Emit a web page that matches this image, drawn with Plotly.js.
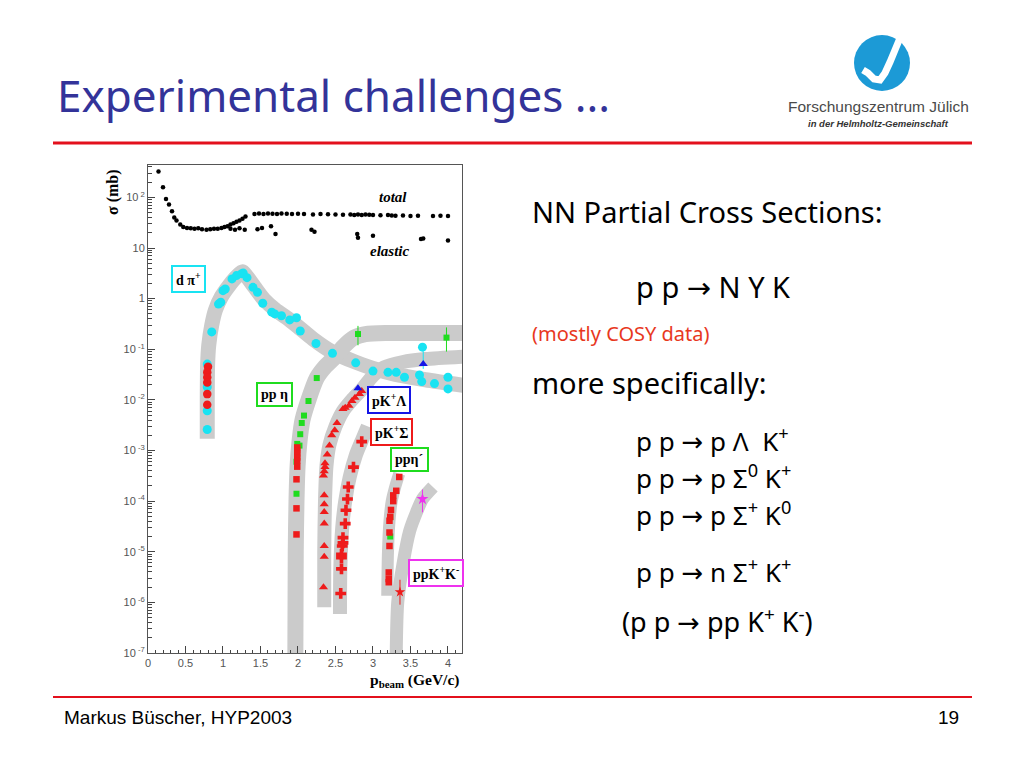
<!DOCTYPE html>
<html>
<head>
<meta charset="utf-8">
<script src="https://cdn.plot.ly/plotly-3.0.1.min.js"></script>
<style>html,body{margin:0;padding:0;background:#fff;}#chart{width:1024px;height:768px;}</style>
</head>
<body>
<div id="chart"></div>
<script>
// ---------------- data ----------------
const totalX = [0.14,0.20,0.24,0.28,0.32,0.35,0.38,0.43,0.47,0.52,0.57,0.62,0.67,0.72,0.78,0.83,0.88,0.93,0.98,1.02,1.06,1.10,1.14,1.18,1.22,1.26,1.30,1.42,1.48,1.54,1.60,1.66,1.72,1.78,1.85,1.92,2.00,2.08,2.20,2.30,2.40,2.50,2.60,2.70,2.75,2.80,2.85,2.90,2.95,3.00,3.10,3.20,3.25,3.30,3.40,3.50,3.60,3.80,3.90,4.00];
const totalY = [324,158,93,72,53,40,35,29,26,25,24.5,24,24.5,23.5,23,23.5,24,24,25,26,27,29,31,33,35,38,42,47,48,47,48,47.5,47,48,47.5,47,47.5,47,46,47,46.5,46,45.5,46,45,46,45,46,45.5,45,44.5,45,44,43.5,44,43,43.5,43,43.5,43];
const elasticX = [1.10,1.16,1.22,1.29,1.46,1.52,1.64,1.70,2.18,2.22,2.79,2.80,3.00,3.64,3.67,4.00];
const elasticY = [24,23,24.5,23,23.5,25,27,19,23,21,19,16,17.5,15,15.5,14];

const cyanX = [0.79,0.79,0.79,0.79,0.85,0.94,0.97,1.00,1.03,1.12,1.18,1.25,1.27,1.32,1.40,1.46,1.53,1.65,1.69,1.78,1.89,1.98,2.03,2.24,2.46,2.77,3.00,3.20,3.31,3.42,3.62,3.65,3.66,3.82,4.00,4.00];
const cyanY = [0.0026,0.0061,0.018,0.051,0.22,0.78,0.85,1.44,1.55,2.45,2.85,3.1,3.2,2.6,1.67,1.33,0.81,0.54,0.5,0.46,0.38,0.42,0.23,0.13,0.083,0.054,0.037,0.035,0.035,0.028,0.031,0.023,0.11,0.021,0.028,0.0165];
const redCircX = [0.80,0.79,0.79,0.79,0.79,0.79];
const redCircY = [0.045,0.035,0.028,0.022,0.013,0.008];

const greenX = [1.98,1.98,1.99,2.02,2.03,2.05,2.08,2.14,2.25,3.23,3.23];
const greenY = [0.00014,0.0006,0.00135,0.00125,0.0021,0.0035,0.0049,0.0095,0.027,4.8e-5,2e-5];
const greenErrX = [2.80,3.98];
const greenErrY = [0.2,0.17];
const greenErrUp = [0.09,0.1];
const greenErrDn = [0.08,0.08];

const redSqX = [1.99,1.99,1.99,1.99,1.99,1.99,1.98,1.98,1.98,3.35,3.31,3.27,3.27,3.24,3.23,3.22,3.22,3.22,3.21,3.21,3.21];
const redSqY = [1.15e-3,1e-3,8.7e-4,7.3e-4,6.3e-4,4.8e-4,2.7e-4,7.2e-5,2.2e-5,3e-4,1.6e-4,1.3e-4,1e-4,6.7e-5,4.9e-5,4.1e-5,2.4e-5,1.3e-5,3.9e-6,2.9e-6,2.5e-6];

const triX = [2.85,2.82,2.76,2.72,2.68,2.63,2.60,2.52,2.49,2.45,2.42,2.39,2.36,2.36,2.35,2.34,2.35,2.35,2.35,2.35,2.35,2.35,2.34];
const triY = [0.015,0.013,0.011,0.0095,0.0077,0.007,0.0066,0.0035,0.0025,0.002,0.00125,8.3e-4,5.6e-4,4.7e-4,3.9e-4,3.2e-4,1.3e-4,8.7e-5,6.1e-5,3.6e-5,1.3e-5,8e-6,2e-6];
const blueX = [2.80,3.67];
const blueY = [0.017,0.051];
const blueErrUp = [0.002,0.04];
const blueErrDn = [0.002,0.01];

const crossX = [2.85,2.74,2.67,2.66,2.64,2.63,2.60,2.60,2.59,2.58,2.58,2.58,2.57];
const crossY = [1.5e-3,4.7e-4,1.9e-4,1.1e-4,6.6e-5,3.6e-5,1.9e-5,1.5e-5,1.3e-5,8.9e-6,7.6e-6,4.6e-6,1.5e-6];

const kkX = [3.36];
const kkY = [1.6e-6];
const magX = [3.66];
const magY = [1.1e-4];

// gray trend bands (centre lines)
const bandDpiX = [0.79,0.79,0.795,0.81,0.85,0.90,0.98,1.08,1.18,1.26,1.32,1.42,1.55,1.70,1.85,2.00,2.20,2.45,2.75,3.00,3.30,3.70,4.25];
const bandDpiY = [0.0017,0.01,0.05,0.12,0.3,0.6,1.1,1.8,2.7,3.4,2.7,1.7,0.95,0.6,0.42,0.28,0.16,0.09,0.057,0.042,0.032,0.025,0.019];
const bandEtaX = [1.965,1.97,1.98,1.995,2.02,2.06,2.14,2.25,2.36,2.47,2.60,2.75,2.90,3.20,3.70,4.25];
const bandEtaY = [1e-7,1e-5,1e-4,5e-4,1.5e-3,4e-3,0.01,0.027,0.045,0.065,0.11,0.17,0.2,0.21,0.21,0.21];
const bandLamX = [2.35,2.35,2.36,2.38,2.42,2.50,2.60,2.72,2.85,3.00,3.15,3.40,3.70,4.25];
const bandLamY = [8e-7,1e-5,1e-4,5e-4,1.3e-3,3e-3,6e-3,0.01,0.016,0.03,0.044,0.056,0.064,0.072];
const bandSigX = [2.56,2.565,2.59,2.63,2.69,2.77,2.86,2.93];
const bandSigY = [5.9e-7,5e-6,3e-5,1e-4,3e-4,8e-4,1.7e-3,3e-3];
const bandEtapX = [3.19,3.20,3.22,3.25,3.30,3.35];
const bandEtapY = [1.35e-6,1e-5,4e-5,1e-4,2e-4,3.5e-4];
const bandKKX = [3.31,3.33,3.40,3.49,3.58,3.66,3.80];
const bandKKY = [1e-7,1e-6,5.7e-6,2.6e-5,6e-5,1.1e-4,1.9e-4];

const yTickVals = [1e-7,1e-6,1e-5,1e-4,1e-3,1e-2,1e-1,1,10,100];
const yTickText = ['10<sup> -7</sup>','10<sup> -6</sup>','10<sup> -5</sup>','10<sup> -4</sup>','10<sup> -3</sup>','10<sup> -2</sup>','10<sup> -1</sup>','1','10','10<sup> 2</sup>'];
const xTickVals = [0,0.5,1,1.5,2,2.5,3,3.5,4];
const xTickText = ['0','0.5','1','1.5','2','2.5','3','3.5','4'];

// ---------------- layout helpers ----------------
const L = 148, R = 462, T = 165, B = 653;
const W = 1024, H = 768;
const px = x => (x - L) / (R - L);
const py = y => (B - y) / (B - T);

const GRAY = '#cbcbcb';
function band(xs, ys, w) {
  return {x: xs, y: ys, mode: 'lines', type: 'scatter', hoverinfo: 'skip', showlegend: false,
          line: {color: GRAY, width: w || 14, shape: 'spline', smoothing: 0.7}};
}
function pts(xs, ys, sym, col, size, extra) {
  return Object.assign({x: xs, y: ys, mode: 'markers', type: 'scatter', showlegend: false,
          marker: {symbol: sym, color: col, size: size, line: {width: 0}}}, extra || {});
}
const CYAN = '#19e3f2', RED = '#ee1b1b', GREEN = '#1fdc1f', BLUE = '#1515e6', MAG = '#ee33ee';

const traces = [
  band(bandDpiX, bandDpiY, 15),
  band(bandEtaX, bandEtaY, 16),
  band(bandLamX, bandLamY, 14),
  band(bandSigX, bandSigY, 14),
  band(bandEtapX, bandEtapY, 12),
  band(bandKKX, bandKKY, 13),
  pts(totalX, totalY, 'circle', '#000', 4.5),
  pts(elasticX, elasticY, 'circle', '#000', 4.5),
  pts(cyanX, cyanY, 'circle', CYAN, 9),
  pts(redCircX, redCircY, 'circle', RED, 8.5),
  pts(greenX, greenY, 'square', GREEN, 6),
  pts(greenErrX, greenErrY, 'square', GREEN, 6, {error_y: {type: 'data', symmetric: false, array: greenErrUp, arrayminus: greenErrDn, color: GREEN, thickness: 1, width: 0}}),
  pts(redSqX, redSqY, 'square', RED, 6.5),
  pts(triX, triY, 'triangle-up', RED, 8),
  pts(blueX, blueY, 'triangle-up', BLUE, 8, {error_y: {type: 'data', symmetric: false, array: blueErrUp, arrayminus: blueErrDn, color: CYAN, thickness: 1, width: 0}}),
  pts(crossX, crossY, 'cross', RED, 9),
  pts(kkX, kkY, 'star', RED, 8, {error_y: {type: 'data', array: [1.2e-6], arrayminus: [0.7e-6], symmetric: false, color: RED, thickness: 1, width: 0}}),
  pts(magX, magY, 'star', MAG, 9, {error_y: {type: 'data', array: [0.6e-4], arrayminus: [0.5e-4], symmetric: false, color: MAG, thickness: 1, width: 0}})
];

const SERIF = 'Liberation Serif, DejaVu Serif, serif';
const SANS = 'Liberation Sans, Arial, sans-serif';
const SLIDE = 'Noto Sans, DejaVu Sans, sans-serif';

function ann(x, y, text, font, opts) {
  return Object.assign({xref: 'paper', yref: 'paper', x: px(x), y: py(y), text: text, showarrow: false,
                        font: font, xanchor: 'center', yanchor: 'middle'}, opts || {});
}
function boxLabel(x, y, text, col) {
  return ann(x, y, '<b>' + text + '</b>', {family: SERIF, size: 14, color: '#000'},
             {bordercolor: col, borderwidth: 2, borderpad: 3, bgcolor: '#fff'});
}

const annotations = [
  // chart labels
  ann(393, 197, '<b><i>total</i></b>', {family: SERIF, size: 15, color: '#000'}),
  ann(389, 251, '<b><i>elastic</i></b>', {family: SERIF, size: 15, color: '#000'}),
  boxLabel(188, 279, 'd π<sup>+</sup>', CYAN),
  boxLabel(274, 394, 'pp η', GREEN),
  boxLabel(389, 400, 'pK<sup>+</sup>Λ', BLUE),
  boxLabel(391, 432, 'pK<sup>+</sup>Σ', RED),
  boxLabel(409, 459, 'ppη´', GREEN),
  boxLabel(436, 573, 'ppK<sup>+</sup>K<sup>-</sup>', MAG),
  ann(113, 192, '<b>σ (mb)</b>', {family: SERIF, size: 16, color: '#000'}, {textangle: -90}),
  ann(414, 680, '<b>p<sub>beam</sub> (GeV/c)</b>', {family: SERIF, size: 15.5, color: '#000'}),
  // slide texts
  ann(55, 95, 'Experimental challenges ...', {family: SLIDE, size: 44, color: '#333399'}, {xanchor: 'left'}),
  ann(878, 107, 'Forschungszentrum Jülich', {family: SANS, size: 15.5, color: '#4a4a4a'}),
  ann(878, 124, '<b><i>in der Helmholtz-Gemeinschaft</i></b>', {family: SANS, size: 9.5, color: '#333'}),
  ann(530, 211, 'NN Partial Cross Sections:', {family: SLIDE, size: 29, color: '#000'}, {xanchor: 'left'}),
  ann(634, 286, 'p p → N Y K', {family: SLIDE, size: 29, color: '#000'}, {xanchor: 'left'}),
  ann(530, 333, '(mostly COSY data)', {family: SLIDE, size: 20, color: '#e8381e'}, {xanchor: 'left'}),
  ann(530, 382, 'more specifically:', {family: SLIDE, size: 29, color: '#000'}, {xanchor: 'left'}),
  ann(634, 440, 'p p → p Λ  K<sup>+</sup>', {family: SLIDE, size: 26, color: '#000'}, {xanchor: 'left'}),
  ann(634, 477, 'p p → p Σ<sup>0</sup> K<sup>+</sup>', {family: SLIDE, size: 26, color: '#000'}, {xanchor: 'left'}),
  ann(634, 514, 'p p → p Σ<sup>+</sup> K<sup>0</sup>', {family: SLIDE, size: 26, color: '#000'}, {xanchor: 'left'}),
  ann(634, 571, 'p p → n Σ<sup>+</sup> K<sup>+</sup>', {family: SLIDE, size: 26, color: '#000'}, {xanchor: 'left'}),
  ann(620, 620, '(p p → pp K<sup>+</sup> K<sup>-</sup>)', {family: SLIDE, size: 27, color: '#000'}, {xanchor: 'left'}),
  ann(62, 717, 'Markus Büscher, HYP2003', {family: SANS, size: 19, color: '#000'}, {xanchor: 'left'}),
  ann(961, 717, '19', {family: SANS, size: 19, color: '#000'}, {xanchor: 'right'})
];

function pathFrom(points) {
  return points.map((p, i) => (i ? 'L' : 'M') + px(p[0]).toFixed(4) + ',' + py(p[1]).toFixed(4)).join(' ');
}
const shapes = [
  {type: 'line', xref: 'paper', yref: 'paper', x0: px(53), x1: px(972), y0: py(143), y1: py(143), line: {color: '#e3101c', width: 3}},
  {type: 'line', xref: 'paper', yref: 'paper', x0: px(53), x1: px(972), y0: py(697), y1: py(697), line: {color: '#e3101c', width: 2}},
  {type: 'circle', xref: 'paper', yref: 'paper', x0: px(854), x1: px(910), y0: py(35), y1: py(91), fillcolor: '#1c9ad6', line: {width: 0}},
  {type: 'path', xref: 'paper', yref: 'paper', path: pathFrom([[900,38],[895,50],[890,62],[885,73],[880,80],[874,79],[868,73],[863,70]]), line: {color: '#fff', width: 7}}
];

const layout = {
  width: W, height: H,
  margin: {l: L, r: W - R, t: T, b: H - B, pad: 0},
  paper_bgcolor: '#fff', plot_bgcolor: '#fff',
  showlegend: false,
  xaxis: {range: [0, 4.187], tickmode: 'array', tickvals: xTickVals, ticktext: xTickText,
          ticks: 'inside', ticklen: 7, tickcolor: '#444', showline: true, linecolor: '#555', linewidth: 1, mirror: true,
          showgrid: false, zeroline: false, tickfont: {family: SANS, size: 11, color: '#555'},
          minor: {dtick: 0.1, ticks: 'inside', ticklen: 3.5, tickcolor: '#444', showgrid: false}},
  yaxis: {type: 'log', range: [-7, 2.64], tickmode: 'array', tickvals: yTickVals, ticktext: yTickText,
          ticks: 'inside', ticklen: 7, tickcolor: '#444', showline: true, linecolor: '#555', linewidth: 1, mirror: true,
          showgrid: false, zeroline: false, tickfont: {family: SANS, size: 11, color: '#555'},
          minor: {dtick: 'D1', ticks: 'inside', ticklen: 3.5, tickcolor: '#444', showgrid: false}},
  annotations: annotations,
  shapes: shapes
};

Plotly.newPlot('chart', traces, layout, {displayModeBar: false, staticPlot: true});
</script>
</body>
</html>
